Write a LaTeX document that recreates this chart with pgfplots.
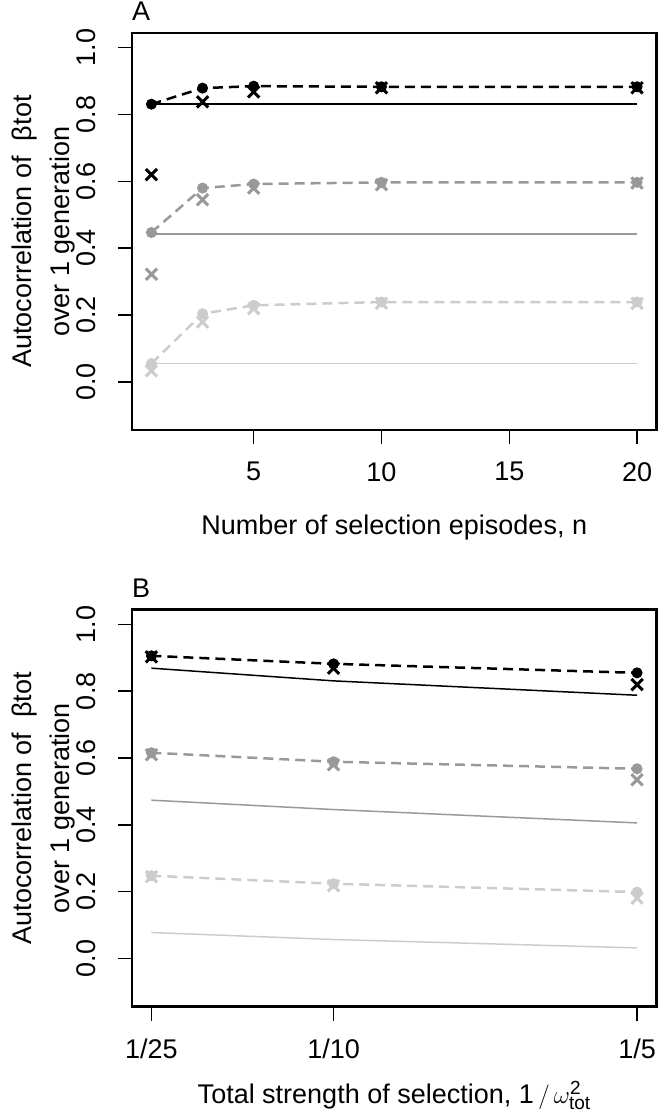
\documentclass[border=0pt]{standalone}
\usepackage{pgfplots}
\pgfplotsset{compat=1.18}
\usepackage{fontspec}
\setmainfont{Liberation Sans}
\definecolor{gmid}{HTML}{999999}
\definecolor{glight}{HTML}{CCCCCC}
\pgfplotsset{
  panel/.style={
    scale only axis, width=524.5pt, height=397pt,
    anchor=south west,
    ymin=-0.144, ymax=1.044,
    axis line style={line width=2.5pt},
    tick pos=left, tick align=outside,
    major tick length=14pt,
    tick style={line width=1.5pt, black},
    ytick={0,0.2,0.4,0.6,0.8,1},
    yticklabels={0.0,0.2,0.4,0.6,0.8,1.0},
    yticklabel style={rotate=90, anchor=south, inner sep=0pt},
    yticklabel shift=22pt,
    xticklabel style={anchor=north, inner sep=0pt},
    xticklabel shift=18pt,
    every axis y label/.style={at={(axis description cs:-0.1687,0.5)}, rotate=90, anchor=center, align=center},
    ylabel={Autocorrelation of \ βtot\\[5pt]over 1 generation},
    title style={at={(axis description cs:0,1)}, anchor=base west, yshift=6pt, inner sep=0pt},
    clip=false,
  },
  mean/.style={line width=2.5pt, dash pattern=on 10pt off 6pt, mark=*, mark size=5pt, mark options={solid, line width=1pt}},
  sim/.style={only marks, mark=x, mark size=8pt, mark options={line width=3pt}},
  theo/.style={line width=1.5pt, no marks},
}
\newcommand{\sz}[1]{\mbox{\fontsize{19}{19}\selectfont #1}}
\begin{document}
\fontsize{27}{33}\selectfont
\begin{tikzpicture}
\useasboundingbox (0,0) rectangle (659pt,1120pt);
% Panel A
\begin{axis}[panel, at={(132pt,690pt)},
  xmin=0.24, xmax=20.76,
  xtick={5,10,15,20},
  xticklabels={5,10,15,20},
  title={A},
  xlabel={Number of selection episodes, n},
  every axis x label/.style={at={(axis description cs:0.5,0)}, anchor=base, yshift=-105pt},
]
% light gray
\addplot[theo, glight] coordinates {(1,0.055) (20,0.055)};
\addplot[mean, glight] coordinates {(1,0.055) (3,0.204) (5,0.229) (10,0.239) (20,0.239)};
\addplot[sim, glight] coordinates {(1,0.033) (3,0.179) (5,0.219) (10,0.235) (20,0.235)};
% mid gray
\addplot[theo, gmid] coordinates {(1,0.442) (20,0.442)};
\addplot[mean, gmid] coordinates {(1,0.447) (3,0.580) (5,0.592) (10,0.597) (20,0.597)};
\addplot[sim, gmid] coordinates {(1,0.322) (3,0.545) (5,0.580) (10,0.590) (20,0.595)};
% black
\addplot[theo, black] coordinates {(1,0.831) (20,0.831)};
\addplot[mean, black] coordinates {(1,0.831) (3,0.879) (5,0.885) (10,0.883) (20,0.883)};
\addplot[sim, black] coordinates {(1,0.620) (3,0.838) (5,0.868) (10,0.880) (20,0.880)};
\end{axis}
% Panel B
\begin{axis}[panel, at={(132pt,113.3pt)},
  xmin=0.0336, xmax=0.2064,
  xtick={0.04,0.1,0.2},
  xticklabels={1/25,1/10,1/5},
  title={B},
  xlabel={Total strength of selection, 1\,$/\,\omega^{\sz{2}}_{\sz{tot}}$},
  every axis x label/.style={at={(axis description cs:0.5,0)}, anchor=base, yshift=-97pt},
]
% light gray
\addplot[theo, glight] coordinates {(0.04,0.078) (0.1,0.057) (0.2,0.032)};
\addplot[mean, glight] coordinates {(0.04,0.248) (0.1,0.224) (0.2,0.199)};
\addplot[sim, glight] coordinates {(0.04,0.245) (0.1,0.218) (0.2,0.181)};
% mid gray
\addplot[theo, gmid] coordinates {(0.04,0.474) (0.1,0.446) (0.2,0.406)};
\addplot[mean, gmid] coordinates {(0.04,0.616) (0.1,0.589) (0.2,0.568)};
\addplot[sim, gmid] coordinates {(0.04,0.610) (0.1,0.580) (0.2,0.535)};
% black
\addplot[theo, black] coordinates {(0.04,0.869) (0.1,0.831) (0.2,0.788)};
\addplot[mean, black] coordinates {(0.04,0.906) (0.1,0.882) (0.2,0.855)};
\addplot[sim, black] coordinates {(0.04,0.903) (0.1,0.869) (0.2,0.820)};
\end{axis}
\end{tikzpicture}
\end{document}
